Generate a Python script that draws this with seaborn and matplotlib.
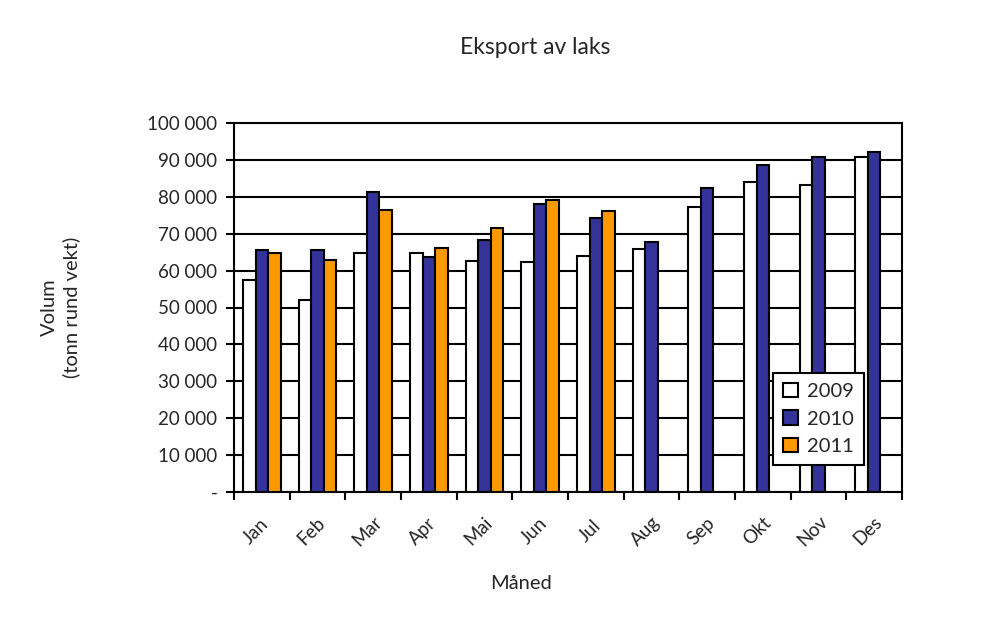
import matplotlib
matplotlib.use("Agg")
import matplotlib.pyplot as plt
import matplotlib.ticker as mticker
import matplotlib.transforms as mtrans
import seaborn as sns
import pandas as pd
import numpy as np

months = ["Jan", "Feb", "Mar", "Apr", "Mai", "Jun", "Jul", "Aug", "Sep", "Okt", "Nov", "Des"]
years = ["2009", "2010", "2011"]
v2009 = [57500, 52000, 64900, 64800, 62600, 62300, 64000, 65900, 77200, 84000, 83200, 90800]
v2010 = [65600, 65600, 81300, 63800, 68400, 78000, 74300, 67800, 82400, 88700, 90800, 92100]
v2011 = [64800, 62900, 76400, 66100, 71500, 79000, 76200, np.nan, np.nan, np.nan, np.nan, np.nan]
colors = ["#FFFFFF", "#333399", "#FF9900"]

df = pd.DataFrame({
    "Måned": months * 3,
    "År": [years[0]] * 12 + [years[1]] * 12 + [years[2]] * 12,
    "Volum": v2009 + v2010 + v2011,
})

sns.set_theme(style="white")
plt.rcParams["font.family"] = ["Lato", "DejaVu Sans"]

fig = plt.figure(figsize=(9.85, 6.39), dpi=100)
ax = fig.add_axes([234 / 985, 1 - 492 / 639, (902 - 234) / 985, (492 - 123) / 639])

sns.barplot(data=df, x="Måned", y="Volum", hue="År", palette=colors, order=months,
            hue_order=years, width=0.68, edgecolor="black", linewidth=1.5,
            saturation=1, ax=ax, zorder=3)

ax.set_ylim(0, 100000)
ax.set_xlim(-0.5, 11.5)
ax.yaxis.set_major_locator(mticker.MultipleLocator(10000))

def fmt(v, pos):
    if v == 0:
        return "-"
    return f"{int(round(v)):,}".replace(",", " ")

ax.yaxis.set_major_formatter(mticker.FuncFormatter(fmt))
ax.grid(axis="y", color="black", linewidth=1.5, zorder=0)
ax.set_axisbelow(True)

for s in ax.spines.values():
    s.set_color("black")
    s.set_linewidth(1.5)

ax.tick_params(axis="y", which="major", direction="out", length=6, width=1.5,
               color="black", left=True, labelsize=13.5, pad=6)
ax.set_xticks(np.arange(-0.5, 12, 1), minor=True)
ax.tick_params(axis="x", which="minor", direction="out", length=6, width=1.5,
               color="black", bottom=True)
ax.tick_params(axis="x", which="major", length=0, labelsize=13.5, pad=28)
shift = mtrans.ScaledTranslation(-6 / 100, 0, fig.dpi_scale_trans)
for lbl in ax.get_xticklabels():
    lbl.set_rotation(45)
    lbl.set_ha("center")
    lbl.set_va("center")
    lbl.set_rotation_mode("anchor")
    lbl.set_transform(lbl.get_transform() + shift)

ax.set_xlabel("Måned", fontsize=14.5)
ax.set_ylabel("Volum\n(tonn rund vekt)", fontsize=14.5, linespacing=1.3)
ax.yaxis.set_label_coords(-0.23, 0.5)
ax.xaxis.set_label_coords(0.43, -0.225)

fig.text(535 / 985, 1 - 47 / 639, "Eksport av laks", ha="center", va="center", fontsize=16.5)

leg = ax.legend(loc="lower right", bbox_to_anchor=(0.943, 0.073), borderaxespad=0,
                frameon=True, fancybox=False, edgecolor="black", framealpha=1,
                fontsize=14.5, handlelength=0.75, handleheight=0.75, handletextpad=0.45,
                borderpad=0.5)
leg.get_frame().set_linewidth(1.5)
leg.set_title(None)

fig.savefig("out.png", dpi=100, facecolor="white")
